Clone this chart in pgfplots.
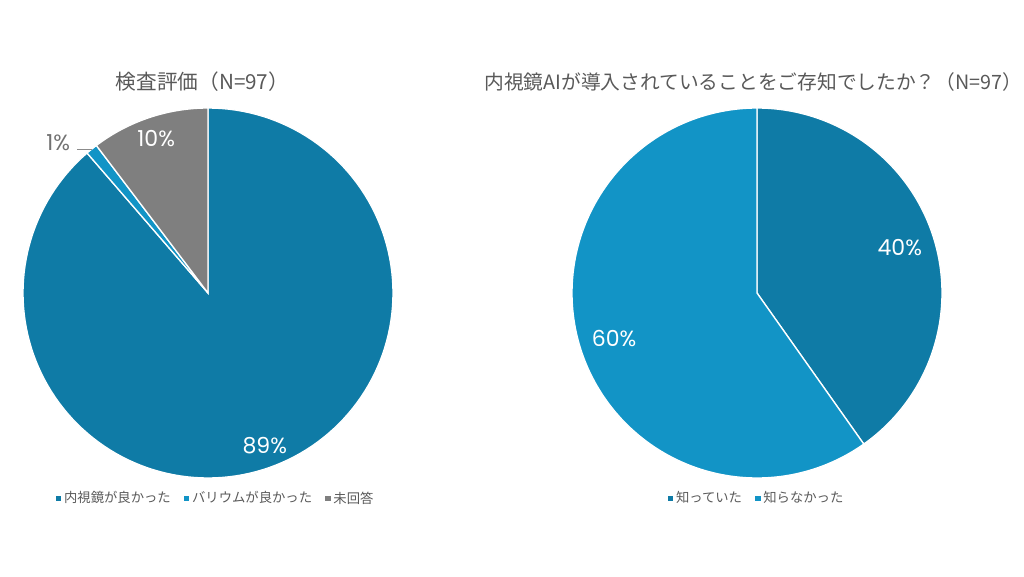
\documentclass[border=0pt]{standalone}
\usepackage{fontspec}
\setmainfont{Noto Sans CJK JP}
\newfontfamily\numfont{Poppins}
\usepackage{pgfplots}
\usepackage{pgfplotstable}
\pgfplotsset{compat=1.18}
\definecolor{dblue}{HTML}{0F7BA6}
\definecolor{lblue}{HTML}{1294C6}
\definecolor{pgrey}{HTML}{7F7F7F}
\definecolor{txt}{HTML}{595959}

% counts of answers (N=97)
\pgfplotstableread{
count
86
1
10
}\tableA
\pgfplotstableread{
count
39
58
}\tableB

\newcommand\getcount[3]{\pgfplotstablegetelem{#2}{count}\of#1\edef#3{\pgfplotsretval}}

\pgfplotsset{
  pieaxis/.style={
    anchor=center, scale only axis, width=277.5pt, height=277.5pt,
    xmin=-1, xmax=1, ymin=-1, ymax=1, hide axis, clip=false,
    legend image code/.code={\fill[##1,draw=none] (0pt,-2pt) rectangle (4pt,2pt);},
    legend style={at={(0.5,-0.055)}, anchor=center, draw=none, fill=none,
      legend columns=-1, font=\fontsize{10}{12}\selectfont, text=txt,
      /tikz/every even column/.append style={column sep=8pt}},
  },
  slice/.style={draw=white, line width=1pt, samples=150, variable=\t},
}

\begin{document}
\begin{tikzpicture}
\path[use as bounding box] (0pt,0pt) rectangle (768pt,432pt);

% ---------- chart A angles ----------
\getcount\tableA{0}\ca \getcount\tableA{1}\cb \getcount\tableA{2}\cc
\pgfmathsetmacro\NA{\ca+\cb+\cc}
\pgfmathsetmacro\kA{360/\NA}
\pgfmathsetmacro\aA{90}
\pgfmathsetmacro\aB{\aA-\ca*\kA}
\pgfmathsetmacro\aC{\aB-\cb*\kA}
\pgfmathsetmacro\aD{\aC-\cc*\kA}
\pgfmathtruncatemacro\pA{round(100*\ca/\NA)}
\pgfmathtruncatemacro\pB{round(100*\cb/\NA)}
\pgfmathtruncatemacro\pC{round(100*\cc/\NA)}
\pgfmathsetmacro\mA{(\aA+\aB)/2}
\pgfmathsetmacro\mB{(\aB+\aC)/2}
\pgfmathsetmacro\mC{(\aC+\aD)/2}
\pgfmathsetmacro\lxA{0.88*cos(\mA)}\pgfmathsetmacro\lyA{0.88*sin(\mA)}
\pgfmathsetmacro\lxC{0.88*cos(\mC)}\pgfmathsetmacro\lyC{0.88*sin(\mC)}
\pgfmathsetmacro\exB{cos(\mB)}\pgfmathsetmacro\eyB{sin(\mB)}

% ---------- chart B angles ----------
\getcount\tableB{0}\cd \getcount\tableB{1}\ce
\pgfmathsetmacro\NB{\cd+\ce}
\pgfmathsetmacro\kB{360/\NB}
\pgfmathsetmacro\bA{90}
\pgfmathsetmacro\bB{\bA-\cd*\kB}
\pgfmathsetmacro\bC{\bB-\ce*\kB}
\pgfmathtruncatemacro\pD{round(100*\cd/\NB)}
\pgfmathtruncatemacro\pE{round(100*\ce/\NB)}
\pgfmathsetmacro\mD{(\bA+\bB)/2}
\pgfmathsetmacro\mE{(\bB+\bC)/2}
\pgfmathsetmacro\lxD{0.81*cos(\mD)}\pgfmathsetmacro\lyD{0.81*sin(\mD)}
\pgfmathsetmacro\lxE{0.81*cos(\mE)}\pgfmathsetmacro\lyE{0.81*sin(\mE)}

\begin{axis}[pieaxis, at={(156pt,212.25pt)}, legend style={at={(0.522,-0.055)}}]
\addplot[slice, fill=dblue, domain=\aB:\aA] ({cos(\t)},{sin(\t)}) -- (axis cs:0,0) -- cycle;
\addlegendentry{内視鏡が良かった}
\addplot[slice, fill=lblue, domain=\aC:\aB] ({cos(\t)},{sin(\t)}) -- (axis cs:0,0) -- cycle;
\addlegendentry{バリウムが良かった}
\addplot[slice, fill=pgrey, domain=\aD:\aC] ({cos(\t)},{sin(\t)}) -- (axis cs:0,0) -- cycle;
\addlegendentry{未回答}
\node[font=\numfont\fontsize{16.5}{18}\selectfont, text=white] at (axis cs:\lxA,\lyA) {\pA\%};
\node[font=\numfont\fontsize{16.5}{18}\selectfont, text=white] at (axis cs:\lxC,\lyC) {\pC\%};
\draw[txt!70, line width=0.5pt] (axis cs:\exB,\eyB) -- (axis cs:-0.71,\eyB);
\node[font=\numfont\fontsize{16.5}{18}\selectfont, text=txt!85] at (axis cs:-0.81,0.815) {\pB\%};
\node[font=\fontsize{15.5}{17}\selectfont, text=txt] at (axis cs:-0.03,1.14) {検査評価（N=97）};
\end{axis}

\begin{axis}[pieaxis, at={(567.75pt,212.25pt)}]
\addplot[slice, fill=dblue, domain=\bB:\bA] ({cos(\t)},{sin(\t)}) -- (axis cs:0,0) -- cycle;
\addlegendentry{知っていた}
\addplot[slice, fill=lblue, domain=\bC:\bB] ({cos(\t)},{sin(\t)}) -- (axis cs:0,0) -- cycle;
\addlegendentry{知らなかった}
\node[font=\numfont\fontsize{16.5}{18}\selectfont, text=white] at (axis cs:\lxD,\lyD) {\pD\%};
\node[font=\numfont\fontsize{16.5}{18}\selectfont, text=white] at (axis cs:\lxE,\lyE) {\pE\%};
\node[font=\fontsize{14.8}{17}\selectfont, text=txt, inner xsep=0pt] at (axis cs:-0.02,1.14) {内視鏡AIが導入されていることをご存知でしたか？（N=97）};
\end{axis}
\end{tikzpicture}
\end{document}
